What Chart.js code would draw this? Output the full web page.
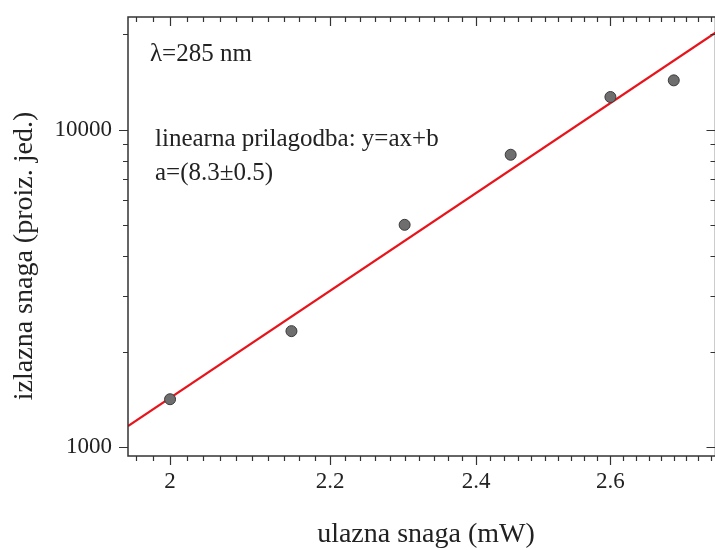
<!DOCTYPE html>
<html>
<head>
<meta charset="utf-8">
<script src="https://cdn.jsdelivr.net/npm/chart.js@4"></script>
<style>
  html, body { margin: 0; padding: 0; background: #fff; overflow: hidden; }
  #wrap { width: 715px; height: 550px; overflow: hidden; position: relative; }
  canvas { display: block; }
</style>
</head>
<body>
<div id="wrap"><canvas id="chart" width="722" height="550"></canvas></div>
<script>
// measured points (input power mW, output power a.u.)
const inputPower = [2.0, 2.15, 2.3, 2.45, 2.6, 2.7];
const outputPower = [1415, 2320, 5020, 8350, 12700, 14330];

// fitted line end points
const fitX = [1.9505, 2.768];
const fitY = [1165, 20250];

// axis ticks
const xTickLabels = [2, 2.2, 2.4, 2.6];
const yTickLabels = [1000, 10000];
const yMinorTicks = [1000, 2000, 3000, 4000, 5000, 6000, 7000, 8000, 9000, 10000, 20000];

const serif = '"Liberation Serif", "Times New Roman", serif';
const textColor = '#222';

const xMinorTicks = [];
for (let i = 98; i <= 138; i++) xMinorTicks.push(i / 50);

// frame, tick marks, annotations and axis titles
const framePlugin = {
    id: 'frame',
    afterDraw(chart) {
        const ctx = chart.ctx;
        const a = chart.chartArea;
        const xs = chart.scales.x;
        const ys = chart.scales.y;

        ctx.save();
        ctx.strokeStyle = '#333';
        ctx.lineWidth = 1.5;
        ctx.strokeRect(a.left, a.top, a.right - a.left, a.bottom - a.top);

        ctx.lineWidth = 1.2;
        ctx.beginPath();
        xMinorTicks.forEach(v => {
            const px = Math.round(xs.getPixelForValue(v)) + 0.5;
            const major = xTickLabels.some(t => Math.abs(t - v) < 1e-6);
            const len = major ? 9 : 5;
            ctx.moveTo(px, a.bottom); ctx.lineTo(px, a.bottom + len);
            ctx.moveTo(px, a.top); ctx.lineTo(px, a.top + len);
        });
        yMinorTicks.forEach(v => {
            const py = Math.round(ys.getPixelForValue(v)) + 0.5;
            const major = yTickLabels.includes(v);
            const len = major ? 9 : 5;
            ctx.moveTo(a.left, py); ctx.lineTo(a.left - len, py);
            ctx.moveTo(a.right, py); ctx.lineTo(a.right - len, py);
        });
        ctx.stroke();

        // annotations
        ctx.fillStyle = textColor;
        ctx.textAlign = 'left';
        ctx.textBaseline = 'alphabetic';
        ctx.font = '25px ' + serif;
        ctx.fillText('λ=285 nm', 150, 61);
        ctx.fillText('linearna prilagodba: y=ax+b', 155, 146);
        ctx.fillText('a=(8.3±0.5)', 155, 180);

        // axis titles
        ctx.font = '28px ' + serif;
        ctx.textAlign = 'center';
        ctx.textBaseline = 'middle';
        ctx.fillText('ulazna snaga (mW)', 426, 535);
        ctx.translate(25, 256);
        ctx.rotate(-Math.PI / 2);
        ctx.fillText('izlazna snaga (proiz. jed.)', 0, 0);
        ctx.restore();
    }
};

new Chart(document.getElementById('chart'), {
    type: 'scatter',
    data: {
        datasets: [
            {
                label: 'mjerenje',
                data: inputPower.map((x, i) => ({ x: x, y: outputPower[i] })),
                backgroundColor: '#6e6e6e',
                borderColor: '#3a3a3a',
                borderWidth: 1,
                pointRadius: 5.5
            },
            {
                label: 'prilagodba',
                type: 'line',
                data: fitX.map((x, i) => ({ x: x, y: fitY[i] })),
                borderColor: '#e8141b',
                borderWidth: 2.2,
                pointRadius: 0,
                fill: false
            }
        ]
    },
    options: {
        responsive: false,
        animation: false,
        layout: { padding: { top: 17, right: 6, bottom: 0, left: 0 } },
        plugins: {
            legend: { display: false },
            tooltip: { enabled: false }
        },
        scales: {
            x: {
                type: 'logarithmic',
                min: fitX[0],
                max: fitX[1],
                bounds: 'data',
                grid: { display: false, drawTicks: false },
                border: { display: false },
                afterBuildTicks: (scale) => {
                    scale.ticks = xTickLabels.map(v => ({ value: v }));
                },
                afterFit: (scale) => {
                    scale.height = 94;
                    scale.paddingLeft = 0;
                    scale.paddingRight = 0;
                },
                ticks: {
                    padding: 12,
                    autoSkip: false,
                    maxRotation: 0,
                    color: textColor,
                    font: { family: serif, size: 23 },
                    callback: (v) => String(v)
                }
            },
            y: {
                type: 'logarithmic',
                min: 937,
                max: 22700,
                bounds: 'data',
                grid: { display: false, drawTicks: false },
                border: { display: false },
                afterBuildTicks: (scale) => {
                    scale.ticks = yTickLabels.map(v => ({ value: v }));
                },
                afterFit: (scale) => {
                    scale.width = 128;
                    scale.paddingTop = 0;
                    scale.paddingBottom = 0;
                },
                ticks: {
                    padding: 16,
                    autoSkip: false,
                    color: textColor,
                    font: { family: serif, size: 23 },
                    callback: (v) => String(v)
                }
            }
        }
    },
    plugins: [framePlugin]
});
</script>
</body>
</html>
